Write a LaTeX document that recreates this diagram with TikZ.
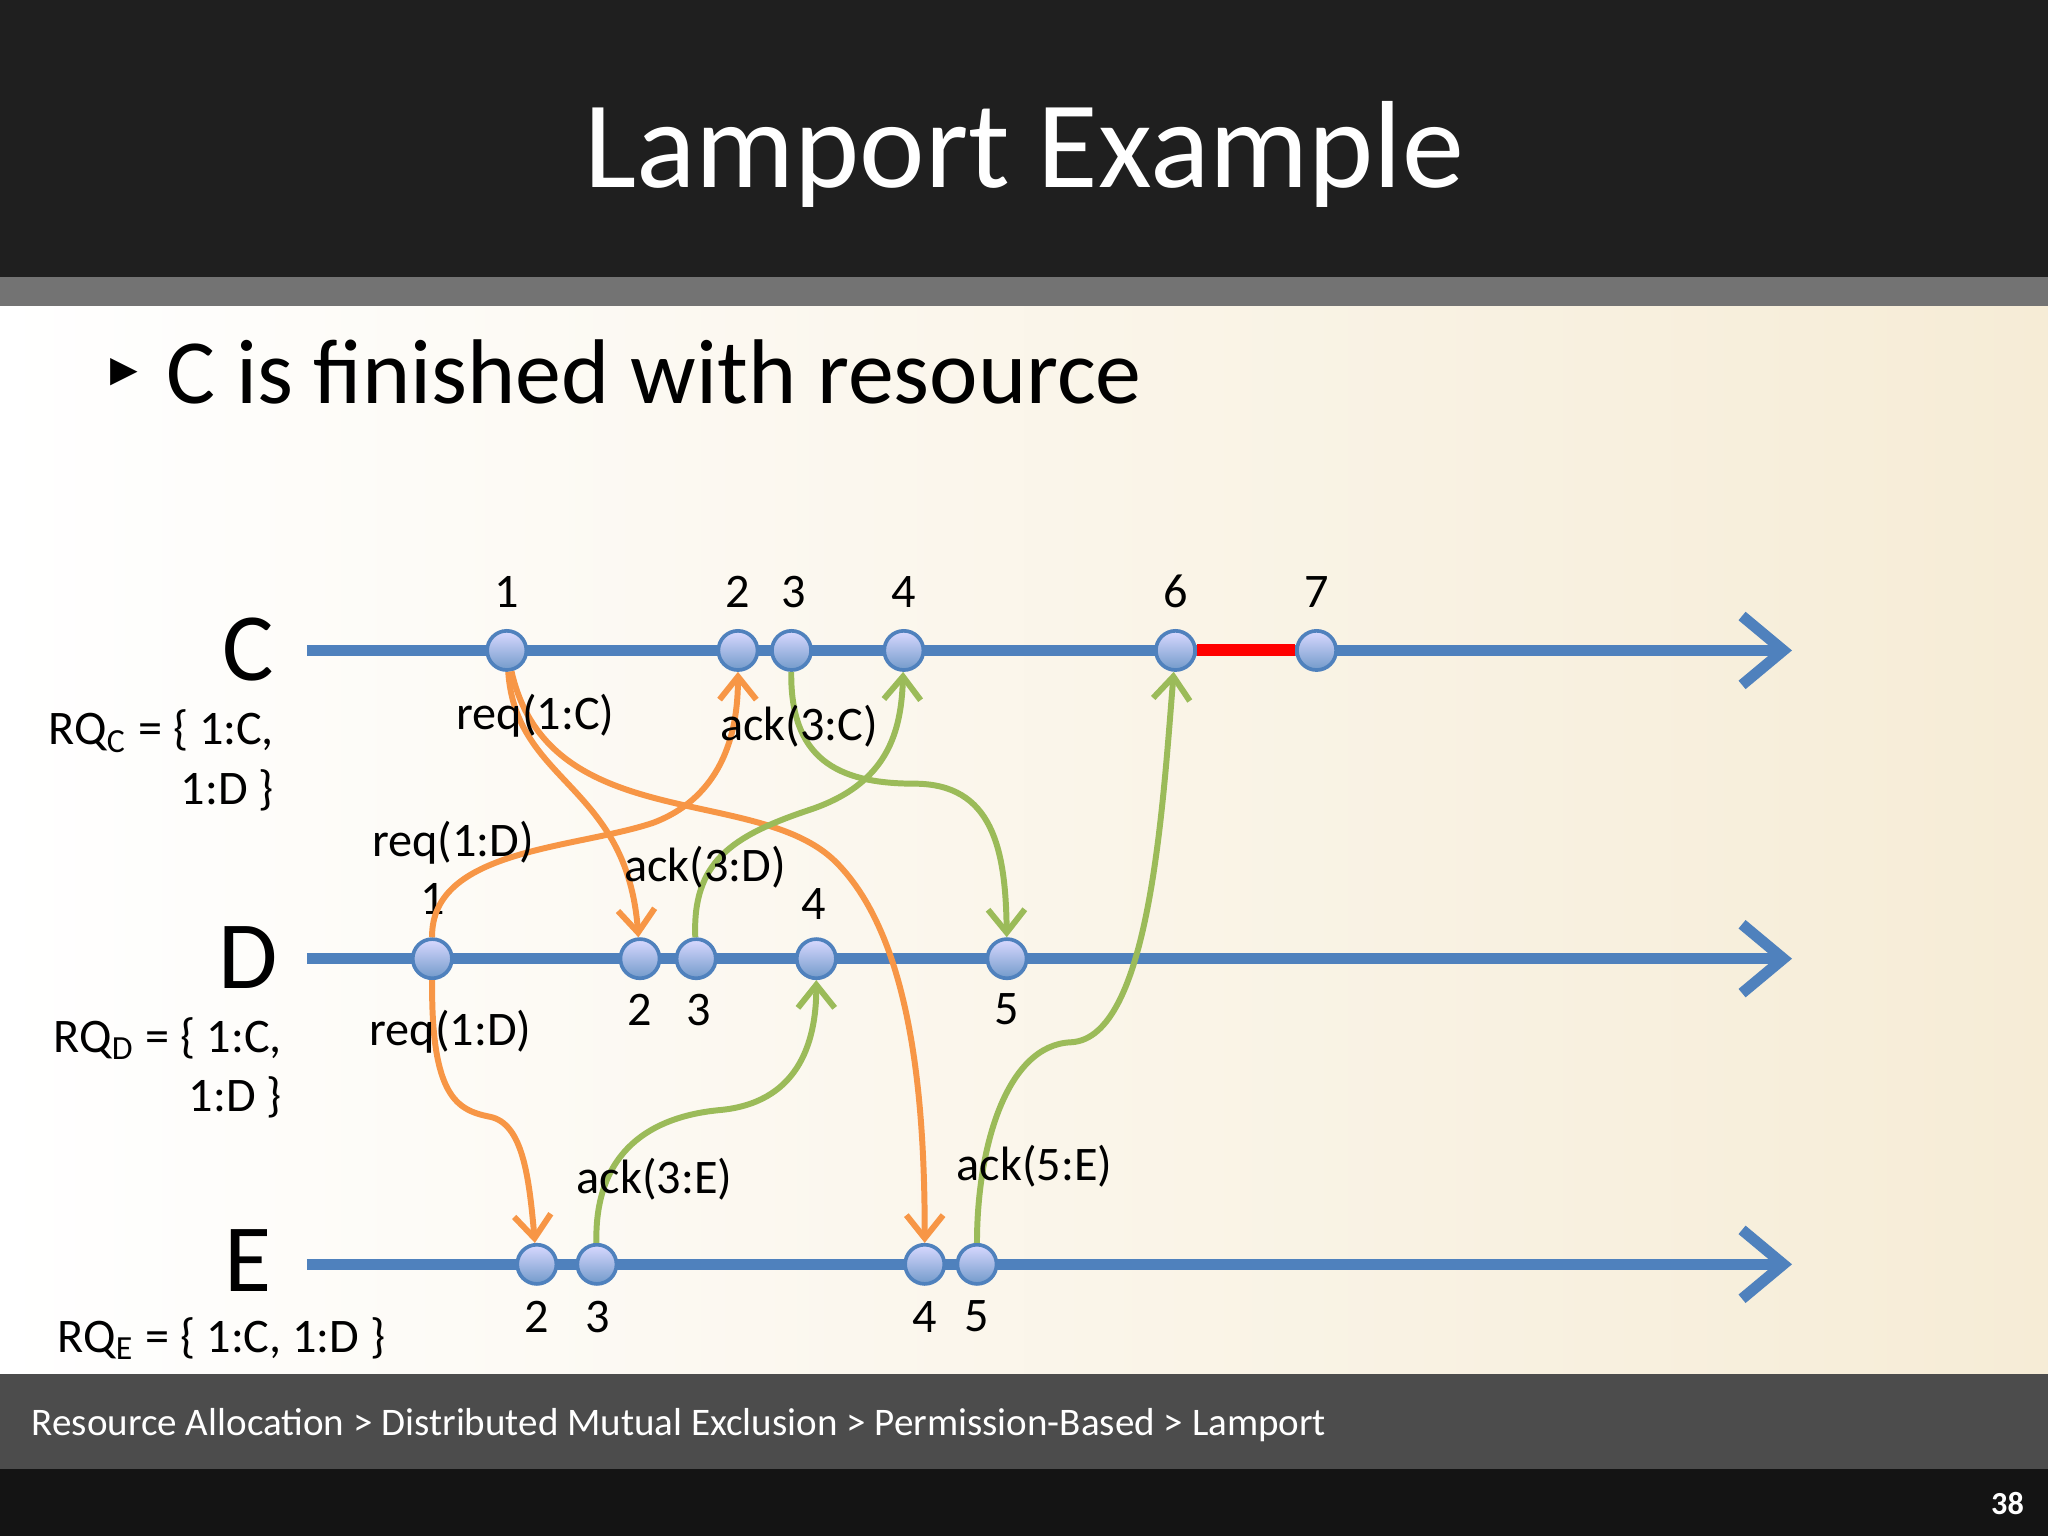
\documentclass[tikz,border=0pt]{standalone}
\usepackage{fontspec}
\setmainfont{Carlito}
\newfontfamily\dejavu{DejaVu Sans}
\usetikzlibrary{arrows.meta}
\definecolor{lblue}{RGB}{79,129,189}
\definecolor{lorange}{RGB}{247,150,70}
\definecolor{lgreen}{RGB}{155,187,89}
\begin{document}
\begin{tikzpicture}[x=0.01cm,y=-0.01cm,
 ev/.style={circle,minimum size=0.3cm,inner sep=0pt,draw=lblue,line width=0.8pt,top color=blue!15!white,bottom color=lblue!80!white},
 tl/.style={line width=2.4pt,lblue,-{Straight Barb[length=9pt,width=15pt,line width=2.4pt]}},
 om/.style={line width=1.3pt,lorange,-{Straight Barb[length=5pt,width=8pt]}},
 gm/.style={line width=1.3pt,lgreen,-{Straight Barb[length=5pt,width=8pt]}},
 lab/.style={font=\fontsize{10.5}{12}\selectfont,inner sep=1pt},
 num/.style={font=\fontsize{10.5}{12}\selectfont,inner sep=1pt}]
\useasboundingbox (0,0) rectangle (1568,1176);
\fill[black!88] (0,0) rectangle (1568,212);
\fill[black!55] (0,212) rectangle (1568,235);
\shade[left color=white, right color={rgb,255:red,246;green,236;blue,214}] (0,235) rectangle (1568,1052);
\fill[black!70] (0,1052) rectangle (1568,1125);
\fill[black!92] (0,1125) rectangle (1568,1176);
\node[white,font=\fontsize{27}{30}\selectfont] (title) at (784,118) {Lamport Example};
\node[font=\dejavu\fontsize{12}{14}\selectfont,anchor=west] (bul) at (72,285) {▸};
\node[font=\fontsize{20}{24}\selectfont,anchor=west] (sub) at (115,285) {C is finished with resource};
\node[white,font=\fontsize{8.5}{10}\selectfont,anchor=west] (foot) at (12,1091) {Resource Allocation > Distributed Mutual Exclusion > Permission-Based > Lamport};
\node[white,font=\bfseries\fontsize{7}{8}\selectfont] (pg) at (1537,1151) {38};
% timelines
\coordinate (cs) at (235,498); \coordinate (ce) at (1372,498);
\coordinate (ds) at (235,734); \coordinate (de) at (1372,734);
\coordinate (es) at (235,968); \coordinate (ee) at (1372,968);
\draw[tl] (cs) -- (ce);
\draw[tl] (ds) -- (de);
\draw[tl] (es) -- (ee);
\node[font=\fontsize{21}{24}\selectfont] (lc) at (190,497) {C};
\node[font=\fontsize{21}{24}\selectfont] (ld) at (190,733) {D};
\node[font=\fontsize{21}{24}\selectfont] (le) at (190,965) {E};
\node[lab,anchor=east] (rqc1) at (214,560) {RQ$_\mathrm{C}$ = \{ 1:C,};
\node[lab,anchor=east] (rqc2) at (214,605) {1:D \}};
\node[lab,anchor=east] (rqd1) at (220,795) {RQ$_\mathrm{D}$ = \{ 1:C,};
\node[lab,anchor=east] (rqd2) at (220,840) {1:D \}};
\node[lab,anchor=west] (rqe) at (40,1025) {RQ$_\mathrm{E}$ = \{ 1:C, 1:D \}};
% events
\foreach \n/\x in {1/388,2/565,3/606,4/692,6/900,7/1008}{\node[ev] (c\n) at (\x,498) {};}
\foreach \n/\x in {1/331,2/490,3/533,4/625,5/771}{\node[ev] (d\n) at (\x,734) {};}
\foreach \n/\x in {2/411,3/457,4/708,5/748}{\node[ev] (e\n) at (\x,968) {};}
\draw[red,line width=2.6pt] (c6) -- (c7);
% numbers
\foreach \n/\x in {1/388,2/565,3/608,4/692,6/900,7/1008}{\node[num] (nc\n) at (\x,453) {\n};}
\node[num] (nd1) at (331,688) {1};
\node[num] (nd4) at (623,692) {4};
\foreach \n/\x in {2/490,3/535,5/771}{\node[num] (nd\n) at (\x,773) {\n};}
\foreach \n/\x in {2/411,3/458,4/708,5/748}{\node[num] (ne\n) at (\x,1008) {\n};}
% messages
\draw[om] (c1) .. controls (395,600) and (480,600) .. (d2);
\draw[om] (c1) .. controls (420,640) and (580,600) .. (640,660) .. controls (700,720) and (708,850) .. (e4);
\draw[om] (d1) .. controls (330,650) and (440,650) .. (500,630) .. controls (540,615) and (565,580) .. (c2);
\draw[om] (d1) .. controls (330,840) and (350,850) .. (375,855) .. controls (400,860) and (405,900) .. (e2);
\draw[gm] (c3) .. controls (605,580) and (640,600) .. (700,600) .. controls (760,600) and (770,650) .. (d5);
\draw[gm] (d3) .. controls (530,660) and (560,640) .. (620,620) .. controls (680,600) and (690,560) .. (c4);
\draw[gm] (e3) .. controls (455,880) and (500,855) .. (550,850) .. controls (610,845) and (625,800) .. (d4);
\draw[gm] (e5) .. controls (748,880) and (770,800) .. (820,798) .. controls (880,795) and (890,620) .. (c6);
% labels
\node[lab] (m1) at (410,548) {req(1:C)};
\node[lab] (m2) at (612,556) {ack(3:C)};
\node[lab] (m3) at (347,645) {req(1:D)};
\node[lab] (m4) at (540,664) {ack(3:D)};
\node[lab] (m5) at (345,790) {req(1:D)};
\node[lab] (m6) at (501,903) {ack(3:E)};
\node[lab] (m7) at (792,893) {ack(5:E)};
\end{tikzpicture}
\end{document}
